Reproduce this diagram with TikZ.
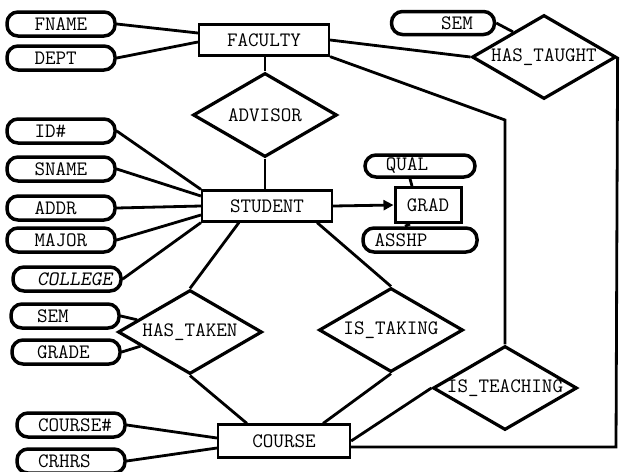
\documentclass[tikz,border=0pt]{standalone}
\usepackage{fontspec}
\usetikzlibrary{shapes.geometric,arrows.meta}
\tikzset{
	every node/.style={font=\ttfamily\fontsize{20.5}{22}\selectfont},
	ent/.style={draw, line width=2.2pt, minimum width=130pt, minimum height=31pt, inner sep=0pt},
	attr/.style={draw, line width=3.5pt, rounded corners=11pt, minimum width=108pt, minimum height=24pt, inner sep=0pt},
	rel/.style={draw, diamond, line width=3.2pt, minimum width=144pt, minimum height=84pt, inner sep=0pt},
	link/.style={line width=2.8pt},
}
\newcommand\attrlbl[2][53pt]{\makebox[#1][l]{#2}}
\newcommand\rellbl[1]{\makebox[0pt]{#1}}

\begin{document}
\begin{tikzpicture}[x=1pt, y=-1pt]
	\useasboundingbox (0,0) rectangle (620,471);
	\node[ent] (faculty) at (264,40) {FACULTY};
	\node[ent] (student) at (267,206) {STUDENT};
	\node[ent, minimum width=132pt, minimum height=33pt] (course) at (284,441) {COURSE};
	\node[ent, line width=3pt, minimum width=66pt, minimum height=35pt] (grad) at (428,205) {GRAD};
	\node[rel] (advisor) at (265,115) {\rellbl{ADVISOR}};
	\node[rel] (hastaught) at (544,57) {\rellbl{HAS\_TAUGHT}};
	\node[rel] (hastaken) at (190,332) {\rellbl{HAS\_TAKEN}};
	\node[rel] (istaking) at (391,330) {\rellbl{IS\_TAKING}};
	\node[rel] (isteaching) at (505,388) {\rellbl{IS\_TEACHING}};
	\node[attr] (fname) at (61,24) {\attrlbl{FNAME}};
	\node[attr] (dept) at (61,58) {\attrlbl{DEPT}};
	\node[attr] (idn) at (61,131) {\attrlbl{ID\#}};
	\node[attr] (sname) at (61,169) {\attrlbl{SNAME}};
	\node[attr] (addr) at (61,208) {\attrlbl{ADDR}};
	\node[attr] (major) at (61,240) {\attrlbl{MAJOR}};
	\node[attr] (college) at (67,279) {\attrlbl[60pt]{\slshape COLLEGE}};
	\node[attr] (semtaken) at (65,316) {\attrlbl[56pt]{SEM}};
	\node[attr] (grade) at (66,352) {\attrlbl[58pt]{GRADE}};
	\node[attr] (coursenum) at (71,425) {\attrlbl[66pt]{COURSE\#}};
	\node[attr] (crhrs) at (71,461) {\attrlbl[66pt]{CRHRS}};
	\node[attr, minimum width=103pt, minimum height=23pt] (semtaught) at (443,23) {\hspace*{28pt}SEM};
	\node[attr, minimum width=110pt, minimum height=22pt] (qual) at (420,166) {QUAL\hspace*{26pt}};
	\node[attr, minimum width=114pt, minimum height=24pt] (asshp) at (420,240) {ASSHP\hspace*{38pt}};
	\coordinate (tbend) at (505,120);
	\coordinate (tcorner) at (616,447);
	\draw[link] (fname.east) -- ([yshift=7pt]faculty.west);
	\draw[link] (dept.east) -- ([yshift=-2pt]faculty.west);
	\draw[link] ([xshift=1pt]faculty.south) -- (advisor.north);
	\draw[link] (advisor.south) -- (advisor.south |- student.north);
	\draw[link] (idn.east) -- (student.north west);
	\draw[link] (sname.east) -- ([yshift=10pt]student.west);
	\draw[link] (addr.east) -- (student.west);
	\draw[link] (major.east) -- ([yshift=-9pt]student.west);
	\draw[link] (college.east) -- (student.south west);
	\draw[link, -{Triangle[length=10pt, width=10pt]}] (student.east) -- (grad.west);
	\draw[link] ([xshift=-10pt]qual.south) -- ([xshift=-16pt]grad.north);
	\draw[link] ([xshift=-15pt]asshp.north) -- ([xshift=-18pt]grad.south);
	\draw[link] ([xshift=38pt]student.south west) -- (hastaken.north);
	\draw[link] ([xshift=-16pt]student.south east) -- (istaking.north);
	\draw[link] (semtaken.east) -- (hastaken.167);
	\draw[link] (grade.east) -- (hastaken.196);
	\draw[link] (hastaken.south) -- ([xshift=30pt]course.north west);
	\draw[link] (istaking.south) -- ([xshift=-28pt]course.north east);
	\draw[link] (coursenum.east) -- ([yshift=3pt]course.west);
	\draw[link] (crhrs.east) -- ([yshift=-7pt]course.west);
	\draw[link] (course.east) -- (isteaching.west);
	\draw[link] (faculty.east) -- (hastaught.west);
	\draw[link] (semtaught.east) -- (hastaught.141);
	\draw[link] (faculty.south east) -- (tbend) -- (isteaching.north);
	\draw[link] (hastaught.east) -- (tcorner) -- (tcorner -| course.east);
\end{tikzpicture}
\end{document}
